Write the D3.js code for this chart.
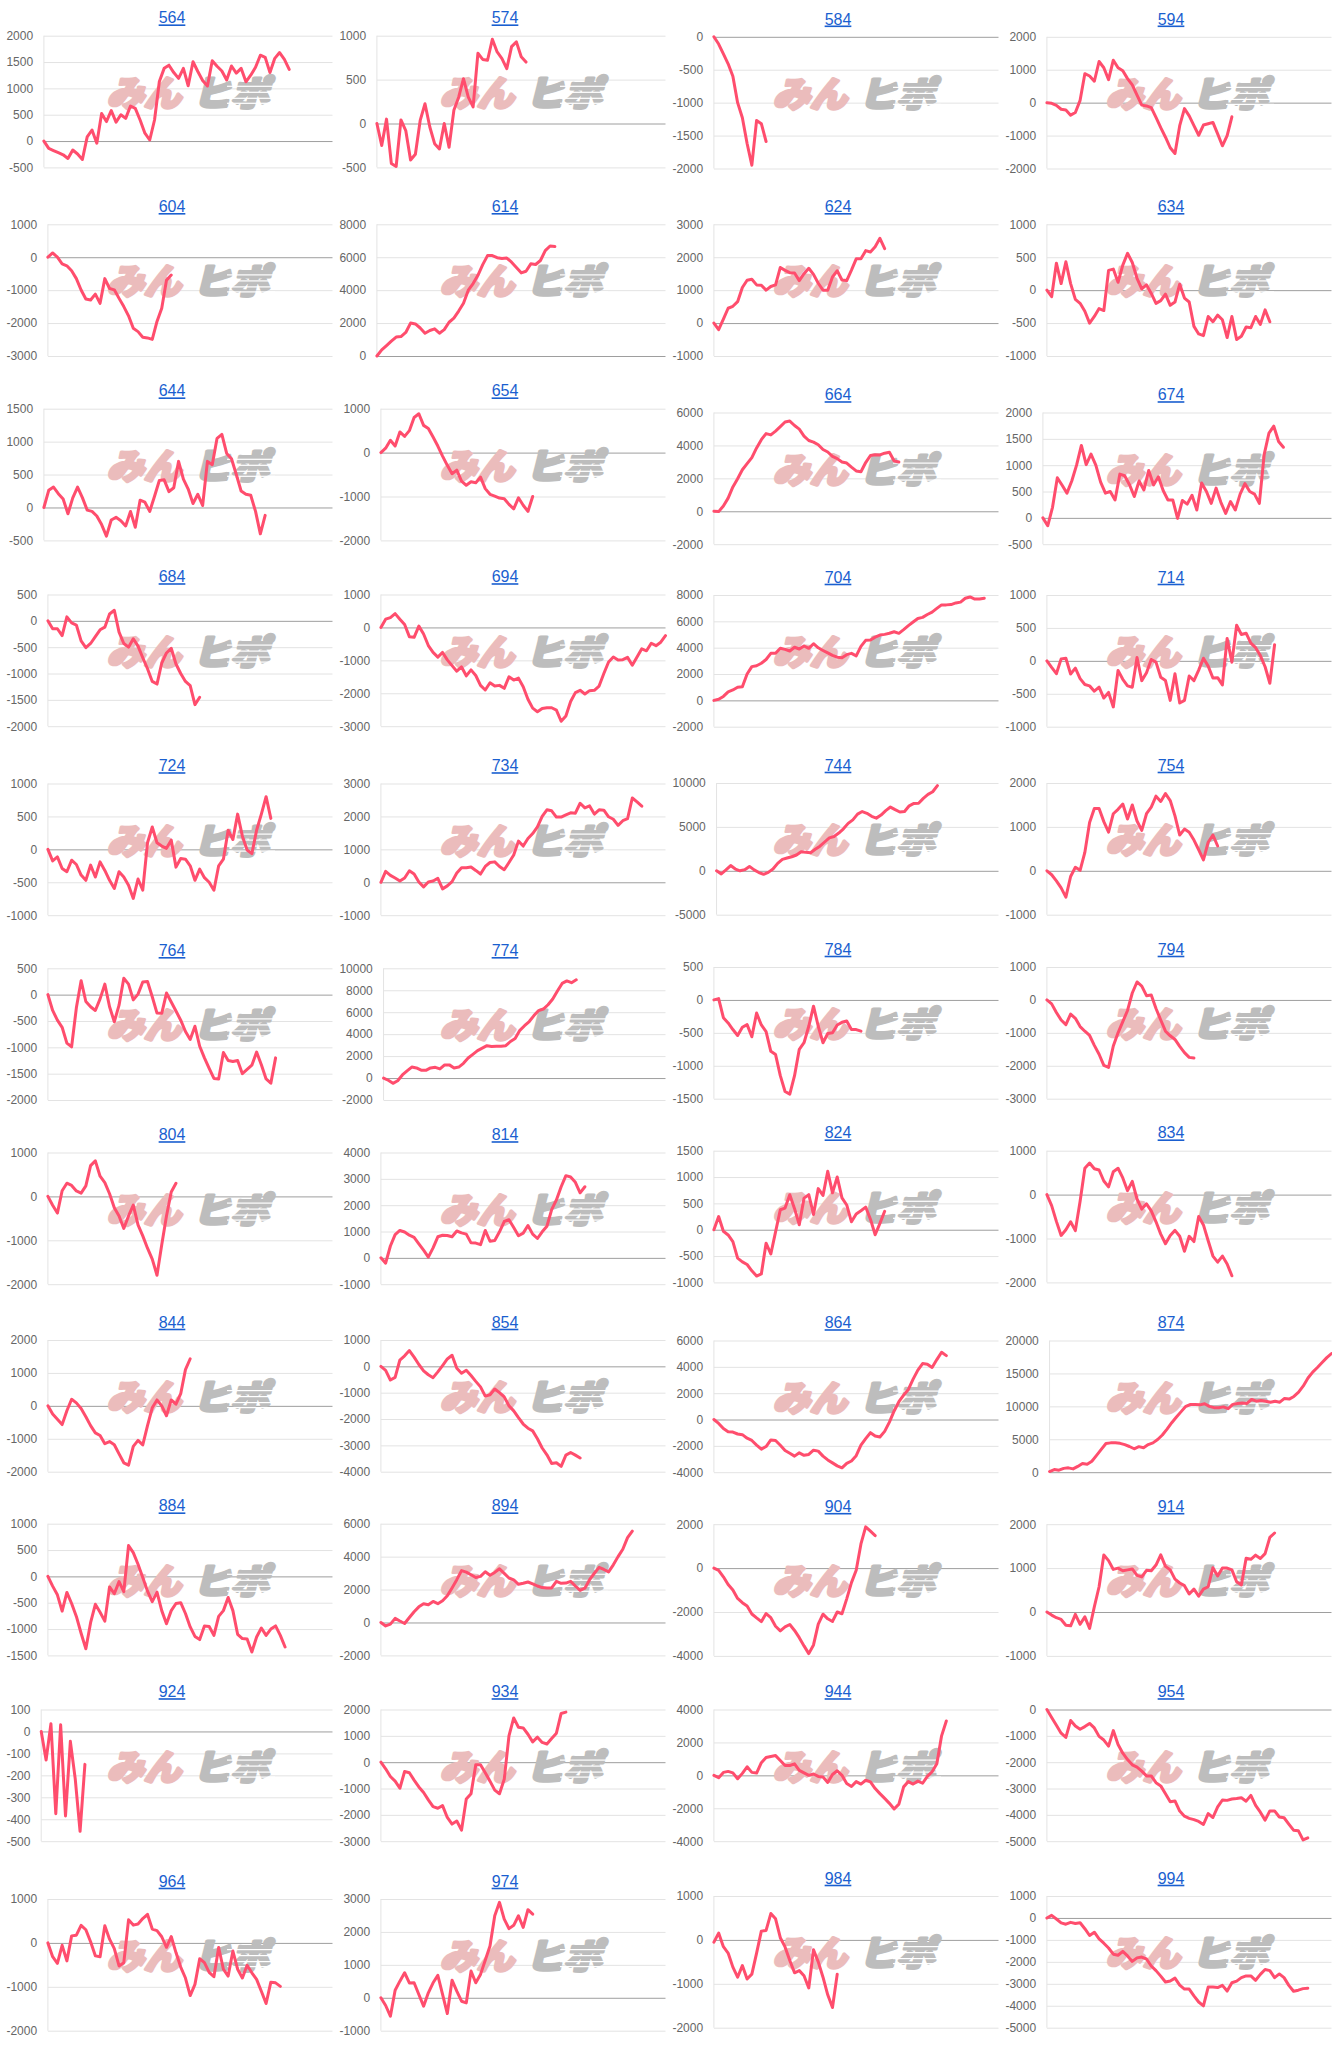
<!DOCTYPE html>
<html><head><meta charset="utf-8">
<script src="https://cdn.jsdelivr.net/npm/d3@7"></script>
<style>html,body{margin:0;padding:0;background:#fff;}svg{display:block;}</style>
</head><body><svg id="c" width="1332" height="2046"></svg>
<script>
const titles = ["564","574","584","594","604","614","624","634","644","654","664","674","684","694","704","714","724","734","744","754","764","774","784","794","804","814","824","834","844","854","864","874","884","894","904","914","924","934","944","954","964","974","984","994"];
const yMins  = [-500,-500,-2000,-2000,-3000,0,-1000,-1000,-500,-2000,-2000,-500,-2000,-3000,-2000,-1000,-1000,-1000,-5000,-1000,-2000,-2000,-1500,-3000,-2000,-1000,-1000,-2000,-2000,-4000,-4000,0,-1500,-2000,-4000,-1000,-500,-3000,-4000,-5000,-2000,-1000,-2000,-5000];
const yMaxs  = [2000,1000,0,2000,1000,8000,3000,1000,1500,1000,6000,2000,500,1000,8000,1000,1000,3000,10000,2000,500,10000,500,1000,1000,4000,1500,1000,2000,1000,6000,20000,1000,6000,2000,2000,100,2000,4000,0,1000,3000,1000,1000];
const ySteps = [500,500,500,1000,1000,2000,1000,500,500,1000,2000,500,500,1000,2000,500,500,1000,5000,1000,500,2000,500,1000,1000,1000,500,1000,1000,1000,2000,5000,500,2000,2000,1000,100,1000,2000,1000,1000,1000,1000,1000];

const s564 = [0,-140,-180,-220,-260,-330,-170,-245,-350,80,210,-40,525,370,580,360,500,430,665,620,400,150,20,400,1130,1380,1440,1300,1190,1380,1050,1505,1320,1150,1045,1525,1420,1330,1160,1425,1290,1380,1125,1250,1400,1630,1590,1300,1570,1680,1550,1360];
const s574 = [0,-250,50,-455,-490,40,-80,-415,-350,35,225,-40,-230,-290,0,-270,150,300,510,300,190,800,730,720,960,815,740,625,875,930,760,700];
const s584 = [0,-110,-260,-410,-600,-1000,-1230,-1620,-1950,-1270,-1320,-1590];
const s594 = [0,-20,-80,-200,-220,-380,-300,70,880,810,650,1250,1060,700,1290,1060,970,730,540,230,-75,-100,-150,-450,-760,-1050,-1370,-1545,-700,-180,-400,-700,-990,-680,-640,-600,-950,-1310,-1000,-430];
const s604 = [0,130,0,-200,-260,-410,-650,-995,-1270,-1300,-1120,-1400,-650,-950,-990,-1250,-1500,-1780,-2160,-2260,-2430,-2450,-2495,-1950,-1550,-700,-540];
const s614 = [0,370,630,900,1150,1180,1430,2000,1950,1700,1385,1550,1650,1385,1600,2050,2300,2730,3200,4000,4400,4900,5550,6100,6100,5970,5920,5950,5700,5380,5050,5150,5600,5560,5800,6400,6680,6650];
const s624 = [0,-200,120,450,510,650,1080,1300,1330,1160,1150,1000,1110,1160,1690,1600,1530,1520,1290,1500,1665,1480,1210,1000,1000,1400,1590,1310,1290,1610,1950,1950,2200,2160,2320,2575,2260];
const s634 = [0,-100,410,100,430,100,-140,-200,-320,-500,-400,-280,-310,300,320,120,380,560,420,180,20,80,-50,-200,-160,-60,-230,-180,90,-120,-180,-550,-665,-690,-400,-480,-380,-450,-720,-400,-750,-700,-560,-570,-400,-520,-300,-480];
const s644 = [0,260,310,210,130,-95,145,310,150,-40,-60,-130,-260,-435,-190,-150,-200,-280,-60,-300,110,80,-60,170,410,420,240,300,700,430,280,60,200,30,700,650,1050,1110,820,740,500,250,200,185,-60,-400,-120];
const s654 = [0,100,280,150,470,370,500,800,885,620,550,355,150,-80,-290,-480,-400,-650,-745,-665,-685,-560,-820,-950,-990,-1035,-1050,-1180,-1280,-1030,-1200,-1340,-1000];
const s664 = [0,-20,320,800,1480,1980,2520,2890,3260,3850,4350,4720,4640,4870,5140,5420,5480,5210,4990,4570,4300,4200,4040,3750,3600,3330,3200,2990,2930,2680,2450,2400,2960,3390,3430,3420,3530,3580,3050,2990];
const s674 = [0,-150,200,760,620,470,700,1000,1375,1010,1210,1000,680,470,500,340,830,800,630,405,700,530,900,625,780,520,340,340,-10,330,260,430,150,660,500,275,565,295,85,310,150,450,650,500,450,275,1200,1610,1740,1450,1340];
const s684 = [0,-150,-150,-280,75,-40,-80,-380,-510,-430,-300,-170,-120,130,200,-215,-430,-500,-340,-480,-700,-910,-1150,-1200,-800,-610,-520,-820,-1000,-1150,-1230,-1590,-1450];
const s694 = [0,250,300,420,250,90,-280,-300,40,-200,-550,-760,-900,-760,-985,-1160,-1330,-1200,-1470,-1290,-1460,-1760,-1900,-1680,-1780,-1760,-1850,-1500,-1600,-1540,-1800,-2180,-2450,-2560,-2460,-2440,-2440,-2510,-2850,-2690,-2250,-1980,-1910,-2020,-1920,-1910,-1780,-1400,-1050,-900,-990,-980,-910,-1150,-900,-650,-710,-480,-555,-450,-250];
const s704 = [0,80,300,650,790,1000,1040,2000,2560,2630,2820,3100,3570,3570,3960,3870,3750,4030,3900,4130,3950,4300,3990,3790,3600,3420,3280,3240,3470,3570,3380,4100,4560,4580,4800,4960,5010,5100,5210,5090,5370,5670,5950,6220,6300,6520,6700,6980,7250,7250,7270,7400,7460,7750,7850,7690,7700,7760];
const s714 = [0,-100,-195,30,40,-200,-110,-270,-360,-380,-460,-400,-565,-480,-700,-145,-280,-380,-400,50,-300,-180,20,-20,-250,-300,-600,-195,-640,-600,-230,-300,-140,40,-80,-260,-255,-365,340,-20,540,400,420,270,200,80,-90,-340,245];
const s724 = [0,-175,-115,-290,-340,-165,-230,-390,-470,-240,-420,-190,-320,-470,-595,-340,-420,-545,-745,-450,-620,100,340,100,50,15,140,-270,-140,-150,-250,-470,-300,-430,-500,-620,-250,-150,290,150,535,200,-10,-65,290,535,800,470];
const s734 = [0,330,210,130,40,130,350,250,10,-140,10,40,120,-200,-110,20,280,440,440,465,360,250,480,600,620,480,380,600,830,1250,1100,1330,1480,1680,2000,2200,2170,1980,1980,2050,2110,2100,2400,2260,2320,2070,2200,2190,1990,1915,1730,1870,1930,2560,2440,2310];
const s744 = [0,-350,100,600,200,0,130,500,100,-200,-400,-180,200,850,1300,1450,1600,1800,2180,2100,2060,2450,2800,3280,3750,3900,4300,4780,5400,5800,6450,6750,6550,6200,6000,6350,6850,7260,6970,6700,6750,7400,7670,7700,8250,8700,9000,9700];
const s754 = [0,-90,-230,-390,-600,-130,80,10,420,1100,1420,1420,1120,880,1300,1400,1520,1180,1500,1135,920,1300,1450,1700,1580,1760,1600,1250,815,950,880,700,480,250,650,815,565];
const s764 = [0,-300,-485,-620,-920,-990,-250,265,-130,-230,-300,-80,200,-230,-515,-200,310,200,-100,10,240,250,-40,-350,-355,30,-140,-310,-485,-700,-850,-600,-980,-1200,-1400,-1590,-1600,-1100,-1250,-1270,-1250,-1500,-1420,-1340,-1090,-1330,-1600,-1680,-1200];
const s774 = [0,-200,-480,-250,280,650,1000,920,720,700,920,980,830,1200,1200,920,1000,1340,1830,2160,2500,2720,2950,2880,2900,2900,2950,3330,3600,4350,4770,5150,5690,6150,6290,6680,7200,7930,8620,8850,8690,8950];
const s784 = [0,20,-270,-350,-450,-540,-415,-375,-560,-200,-380,-480,-780,-830,-1150,-1390,-1430,-1150,-750,-650,-400,-95,-400,-650,-510,-500,-380,-340,-320,-450,-450,-475];
const s794 = [0,-120,-380,-610,-750,-430,-560,-810,-950,-1080,-1380,-1650,-1990,-2050,-1400,-1000,-660,-320,210,545,420,130,150,-260,-610,-950,-1090,-1200,-1410,-1600,-1745,-1765];
const s804 = [0,-200,-380,130,300,250,125,75,240,700,810,460,315,60,-260,-445,-730,-445,-200,-650,-900,-1180,-1430,-1795,-1100,-445,100,300];
const s814 = [0,-200,450,880,1040,980,860,780,530,290,30,380,800,860,850,800,1020,950,900,570,560,500,1040,630,660,990,1380,1450,1150,840,940,1230,900,735,990,1200,1830,2200,2700,3120,3070,2870,2470,2700];
const s824 = [0,250,-30,-100,-225,-540,-610,-660,-780,-880,-840,-255,-460,-40,380,410,665,400,95,600,665,290,780,650,1110,700,1000,605,470,150,300,360,430,200,-95,120,350];
const s834 = [0,-250,-610,-930,-800,-620,-820,-150,600,720,590,560,310,175,520,600,380,90,300,-100,-330,-210,-370,-620,-900,-1120,-930,-815,-950,-1290,-950,-1070,-500,-690,-1050,-1400,-1540,-1400,-1580,-1850];
const s844 = [0,-250,-410,-570,-150,200,90,-80,-330,-600,-820,-900,-1150,-1085,-1180,-1460,-1730,-1800,-1230,-1050,-1185,-600,-60,180,0,-300,180,50,370,1100,1430];
const s854 = [0,-150,-520,-420,240,400,600,350,70,-170,-320,-430,-210,30,280,420,-70,-260,-150,-350,-570,-780,-1130,-1080,-860,-1000,-1160,-1500,-1690,-1950,-2190,-2350,-2450,-2750,-3100,-3360,-3685,-3660,-3800,-3370,-3270,-3370,-3480];
const s864 = [0,-300,-690,-930,-950,-1100,-1150,-1420,-1590,-1940,-2250,-2050,-1550,-1590,-1950,-2350,-2560,-2780,-2530,-2720,-2655,-2330,-2400,-2780,-3070,-3290,-3520,-3670,-3330,-3150,-2750,-1950,-1450,-1000,-1250,-1330,-900,-200,650,1350,1850,2280,3070,3750,4250,4200,3950,4550,5110,4850];
const s874 = [100,400,300,580,660,500,880,1320,1220,1670,2550,3460,4350,4455,4455,4380,4180,3900,3560,3880,3720,4200,4455,4960,5650,6550,7520,8380,9200,10000,10280,10280,10230,10400,10000,9800,9780,9920,9650,10300,10430,10500,10450,11040,10785,10900,10785,10630,10785,10630,11200,11100,11500,12150,13100,14300,15200,15900,16650,17400,18020];
const s884 = [0,-185,-350,-660,-305,-515,-760,-1080,-1375,-880,-530,-680,-850,-200,-330,-100,-290,585,450,230,-20,-280,-480,-300,-650,-900,-650,-515,-500,-705,-960,-1140,-1200,-940,-950,-1120,-760,-650,-400,-650,-1100,-1180,-1190,-1435,-1150,-980,-1120,-1000,-940,-1120,-1340];
const s894 = [0,-210,-100,250,90,-60,300,650,950,1140,1080,1280,1140,1320,1620,2100,2600,3150,3060,2900,2730,2800,3080,2870,3040,3260,2980,2700,2590,2320,2380,2460,2350,2215,2120,2090,2100,2500,2380,2395,2500,2215,1950,2080,2600,2990,3350,3220,3070,3500,4000,4450,5150,5550];
const s904 = [0,-100,-395,-750,-1000,-1380,-1575,-1730,-2090,-2270,-2440,-2070,-2260,-2650,-2860,-2680,-2570,-2840,-3170,-3545,-3895,-3500,-2555,-2100,-2310,-2430,-2000,-2080,-1400,-660,-100,1100,1880,1680,1480];
const s914 = [0,-70,-130,-170,-300,-315,-55,-280,-110,-375,120,575,1300,1170,970,1000,940,960,980,835,800,950,940,1070,1300,1040,960,750,660,600,410,520,360,520,575,1010,820,1000,1000,960,690,615,1225,1200,1295,1220,1330,1700,1800];
const s924 = [0,-130,35,-375,30,-385,-45,-215,-455,-150];
const s934 = [0,-250,-545,-720,-990,-355,-400,-680,-940,-1150,-1430,-1690,-1750,-1650,-2100,-2350,-2235,-2580,-1400,-1200,-100,-100,-400,-720,-1060,-1200,-650,1000,1680,1325,1300,1060,770,950,750,690,900,1100,1850,1900];
const s944 = [0,-140,180,240,150,-205,120,520,180,140,770,1080,1150,1200,900,600,600,700,300,150,0,80,-65,-100,-430,50,280,0,-500,-675,-380,-530,-300,-400,-800,-1110,-1400,-1700,-2045,-1750,-700,-380,-530,-350,-480,-65,220,700,2400,3300];
const s954 = [0,-300,-600,-900,-1060,-420,-630,-750,-650,-530,-700,-1020,-1160,-1390,-800,-1330,-1660,-1900,-2100,-2190,-2340,-2520,-2520,-2780,-2900,-3200,-3500,-3470,-3855,-4050,-4135,-4180,-4250,-4365,-3950,-4100,-3700,-3435,-3450,-3400,-3380,-3350,-3480,-3260,-3640,-3900,-4200,-3850,-3850,-4080,-4110,-4350,-4580,-4600,-4950,-4870];
const s964 = [0,-315,-465,-55,-410,160,175,400,300,25,-295,-315,390,85,-130,-525,-450,525,405,430,555,650,315,280,140,-100,145,-220,-550,-800,-1200,-945,-360,-450,-670,-770,-105,-600,-755,-185,-600,-800,-510,-680,-830,-1100,-1380,-895,-910,-990];
const s974 = [0,-235,-560,230,505,760,450,455,100,-255,150,455,680,100,-480,535,200,-105,-155,810,455,710,1140,1575,2490,2900,2390,2100,2200,2490,2135,2675,2540];
const s984 = [-50,155,-155,-300,-620,-850,-585,-890,-780,-300,200,215,600,480,50,-160,-470,-750,-700,-815,-1095,-225,-500,-850,-1250,-1540,-780];
const s994 = [0,120,-50,-225,-285,-200,-250,-220,-490,-800,-650,-950,-1150,-1370,-1650,-1700,-1520,-1730,-1980,-1820,-1780,-1870,-2190,-2400,-2650,-2920,-2870,-2740,-3060,-3240,-3240,-3550,-3830,-4005,-3150,-3150,-3170,-3070,-3330,-2950,-2880,-2720,-2640,-2640,-2840,-2570,-2350,-2400,-2720,-2550,-2720,-3070,-3340,-3290,-3220,-3200];

const seriesList = [s564,s574,s584,s594,s604,s614,s624,s634,s644,s654,s664,s674,s684,s694,s704,s714,s724,s734,s744,s754,s764,s774,s784,s794,s804,s814,s824,s834,s844,s854,s864,s874,s884,s894,s904,s914,s924,s934,s944,s954,s964,s974,s984,s994];

// layout (not data)
const NMAX = 60;
const PW = 333, PH = 131.7;
const topsLeft  = [35.7,224.3,408.7,594.5,783.5,968.3,1152.5,1340,1523.7,1709.5,1899];
const topsRight = [36.8,224.3,412.5,595,783,967,1150.7,1340.5,1524.2,1709.5,1896];

const FONT = "Arial, 'Liberation Sans', sans-serif";
const CJK = "'Noto Sans CJK JP', 'Noto Sans CJK SC', sans-serif";
const svg = d3.select("#c");
svg.append("rect").attr("width",1332).attr("height",2046).attr("fill","#fff");

titles.forEach((title, i) => {
  const col = i % 4, row = Math.floor(i / 4);
  const x0 = col * PW;
  const top = (col < 2 ? topsLeft : topsRight)[row];
  const g = svg.append("g").attr("transform", `translate(${x0},0)`);
  const ticks = d3.range(yMins[i], yMaxs[i] + ySteps[i] / 2, ySteps[i]);
  const y = d3.scaleLinear().domain([yMins[i], yMaxs[i]]).range([top + PH, top]);

  // measure label widths
  const meas = g.append("g");
  let maxW = 0;
  ticks.forEach(t => {
    const el = meas.append("text").style("font-family", FONT).style("font-size", "12px").text(String(t));
    maxW = Math.max(maxW, el.node().getComputedTextLength());
  });
  meas.remove();
  const left = 6.4 + maxW + 10.8;
  const right = 332.5;
  const x = d3.scaleLinear().domain([0, NMAX]).range([left, right]);

  // axis with gridlines
  const ax = g.append("g").attr("transform", `translate(${left},0)`)
    .call(d3.axisLeft(y).tickValues(ticks).tickSize(-(right - left)).tickPadding(10.8).tickFormat(d => String(d)));
  ax.select(".domain").remove();
  ax.selectAll(".tick line").attr("stroke", d => d === 0 ? "#9e9e9e" : "#e3e3e3").attr("stroke-width", 1);
  ax.selectAll(".tick text").attr("fill", "#666").style("font-family", FONT).style("font-size", "12px").attr("dy", "0.32em");
  ax.selectAll(".tick").filter(d => d === 0).raise();

  // vertical axis line
  g.append("line").attr("x1", left).attr("x2", left).attr("y1", top).attr("y2", top + PH)
    .attr("stroke", "#e3e3e3").attr("stroke-width", 1);

  // watermark
  const wm = g.append("g").attr("transform", `translate(107,${top + 42})`);
  wm.append("text").attr("x", 7).attr("y", 28).attr("transform", "skewX(-14)")
    .attr("textLength", 74).attr("lengthAdjust", "spacingAndGlyphs")
    .style("font-family", CJK).style("font-weight", 900).style("font-size", "35px")
    .attr("fill", "#ebbcbc").attr("stroke", "#ebbcbc").attr("stroke-width", 3.2).attr("stroke-linejoin", "round")
    .text("みん");
  wm.append("text").attr("x", 93).attr("y", 28).attr("transform", "skewX(-14)")
    .attr("textLength", 76).attr("lengthAdjust", "spacingAndGlyphs")
    .style("font-family", CJK).style("font-weight", 900).style("font-size", "35px")
    .attr("fill", "#bdbdbd").attr("stroke", "#bdbdbd").attr("stroke-width", 3.2).attr("stroke-linejoin", "round")
    .text("ヒポ");
  [8, 14, 20, 25].forEach(yy => {
    wm.append("rect").attr("x", 120).attr("y", yy).attr("width", 48).attr("height", 1.2).attr("fill", "#fff");
  });

  // series line
  const line = d3.line().x((d, j) => x(j)).y(d => y(d));
  g.append("path").datum(seriesList[i]).attr("d", line)
    .attr("fill", "none").attr("stroke", "#ff4d6d").attr("stroke-width", 3)
    .attr("stroke-linejoin", "round").attr("stroke-linecap", "round");

  // title
  g.append("text").attr("x", 172).attr("y", top - 12.3).attr("text-anchor", "middle")
    .style("font-family", FONT).style("font-size", "16px").style("text-decoration", "underline")
    .attr("fill", "#1a5fd0").text(title);
});
</script></body></html>
